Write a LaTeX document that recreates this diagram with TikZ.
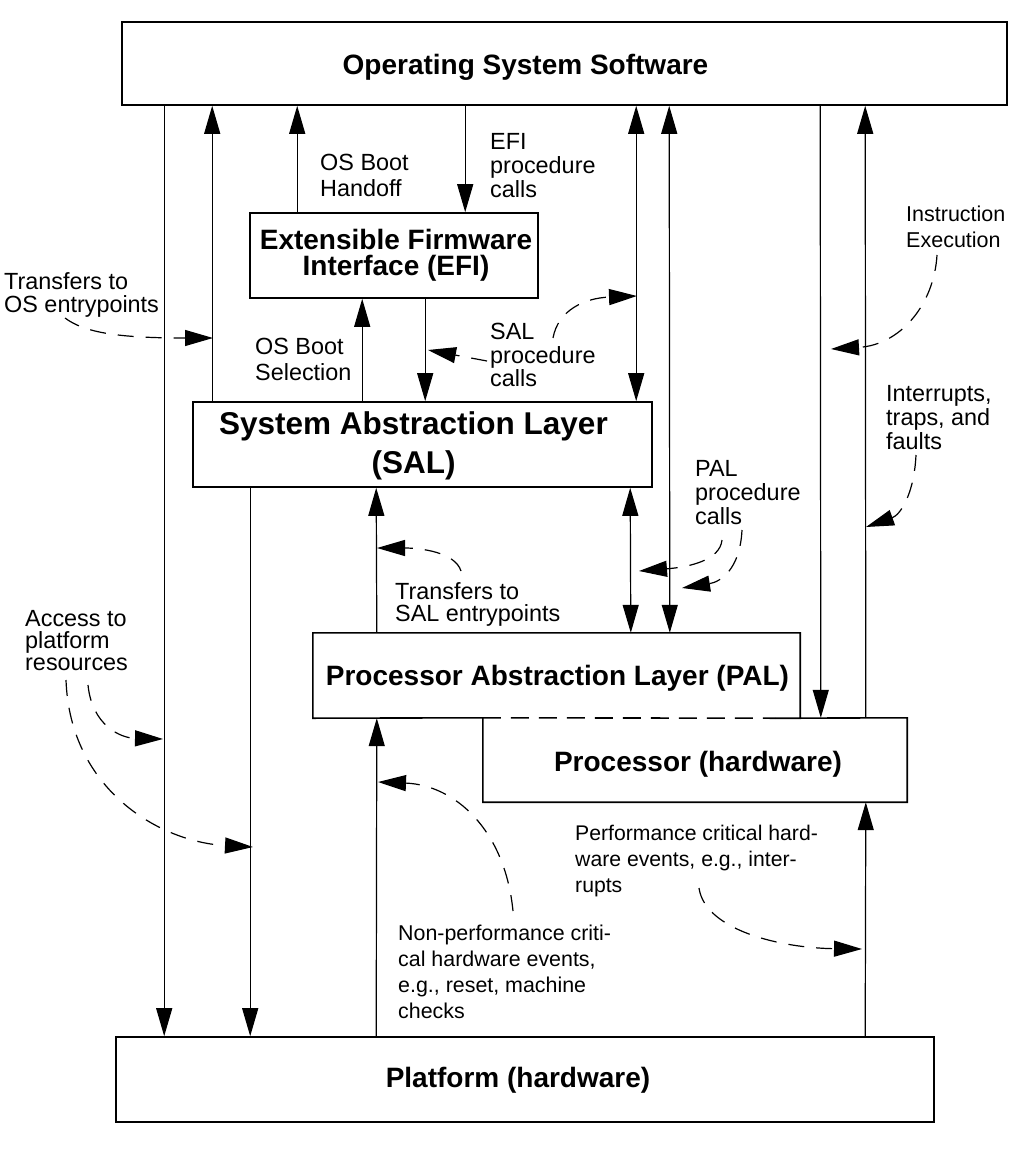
\documentclass[tikz,border=0pt]{standalone}
\usepackage{fontspec}
\setmainfont{Liberation Sans}
\usetikzlibrary{arrows.meta}

\begin{document}
\begin{tikzpicture}[x=1pt,y=-1pt,
    box/.style={draw, line width=1.6pt, inner sep=0pt},
    title/.style={font=\fontsize{28}{28}\selectfont\bfseries, align=center, inner sep=0pt},
    note/.style={align=left, anchor=north west, inner sep=0pt},
    conn/.style={line width=1.2pt, -{Triangle[length=28pt,width=16pt]}},
    both/.style={line width=1.2pt, {Triangle[length=28pt,width=16pt]}-{Triangle[length=28pt,width=16pt]}},
    hint/.style={line width=1.2pt, dash pattern=on 16pt off 12pt, -{Triangle[length=28pt,width=16pt]}}]
  \useasboundingbox (0,0) rectangle (1028,1158);

  % boxes
  \node[box, minimum width=885pt, minimum height=83pt] (os) at (564.5,63.5) {};
  \node[title] (ostitle) at ([xshift=-39pt,yshift=-4pt]os.center) {Operating System Software};
  \node[box, minimum width=288pt, minimum height=85pt] (efi) at (394,255.5) {};
  \node[title, font=\fontsize{28}{26.5}\selectfont\bfseries] (efititle) at ([xshift=2pt]efi.center) {Extensible Firmware\\Interface (EFI)};
  \node[box, minimum width=459pt, minimum height=85pt] (sal) at (422.5,444.5) {};
  \node[title, font=\fontsize{31.5}{39}\selectfont\bfseries] (saltitle) at ([xshift=-9pt,yshift=-1pt]sal.center) {System Abstraction Layer\\(SAL)};
  \node[minimum width=487pt, minimum height=85pt] (pal) at (556.5,675.5) {};
  \node[title] (paltitle) at ([xshift=1pt,yshift=-3pt]pal.center) {Processor Abstraction Layer (PAL)};
  \node[minimum width=424pt, minimum height=84pt] (proc) at (695,760) {};
  \node[title] (proctitle) at ([xshift=3pt,yshift=-4pt]proc.center) {Processor (hardware)};
  \node[box, minimum width=818pt, minimum height=85pt] (plat) at (525,1079.5) {};
  \node[title] (plattitle) at ([xshift=-7pt,yshift=-1pt]plat.center) {Platform (hardware)};
  \draw[line width=1.6pt] ([xshift=-25pt]pal.south east) -- (pal.south east) -- (pal.north east) -- (pal.north west)
    -- (pal.south west) -- (proc.north west) -- (proc.south west) -- (proc.south east) -- (proc.north east) -- cycle;
  \draw[line width=1.6pt, dash pattern=on 18pt off 10pt] (proc.north west) -- ([xshift=-25pt]pal.south east);

  % labels
  \node[note, font=\fontsize{23.4}{23}\selectfont] (ostrans) at (4,272) {Transfers to\\OS entrypoints};
  \node[note, font=\fontsize{23.4}{22}\selectfont] (access) at (25,610) {Access to\\platform\\resources};
  \node[note, font=\fontsize{21.5}{26}\selectfont] (instr) at (906,206) {Instruction\\Execution};
  \node[note, font=\fontsize{23.4}{24}\selectfont] (intr) at (886,385) {Interrupts,\\traps, and\\faults};
  \node[note, font=\fontsize{23.4}{24}\selectfont] (palcalls) at (695,460) {PAL\\procedure\\calls};
  \node[note, font=\fontsize{23.4}{23.5}\selectfont] (salcalls) at (490,323) {SAL\\procedure\\calls};
  \node[note, font=\fontsize{23.4}{24}\selectfont] (eficalls) at (490,133) {EFI\\procedure\\calls};
  \node[note, font=\fontsize{23.4}{26}\selectfont] (handoff) at (320,154) {OS Boot\\Handoff};
  \node[note, font=\fontsize{23.4}{26}\selectfont] (selection) at (255,338) {OS Boot\\Selection};
  \node[note, font=\fontsize{23.4}{22}\selectfont] (saltrans) at (395,582) {Transfers to\\SAL entrypoints};
  \node[note, font=\fontsize{21.2}{26}\selectfont] (perf) at (575,825) {Performance critical hard-\\ware events, e.g., inter-\\rupts};
  \node[note, font=\fontsize{21.4}{26}\selectfont] (nonperf) at (398,925) {Non-performance criti-\\cal hardware events,\\e.g., reset, machine\\checks};

  % solid connectors
  \draw[conn] ([xshift=43pt]os.south west) -- ([xshift=49pt]plat.north west);
  \draw[conn] ([xshift=20pt]sal.north west) -- ([xshift=91pt]os.south west);
  \draw[conn] ([xshift=48pt]efi.north west) -- ([xshift=176pt]os.south west);
  \draw[conn] ([xshift=344pt]os.south west) -- ([xshift=216pt]efi.north west);
  \draw[conn] ([xshift=170pt]sal.north west) -- ([xshift=113pt]efi.south west);
  \draw[conn] ([xshift=176pt]efi.south west) -- ([xshift=233pt]sal.north west);
  \draw[both] ([xshift=515pt]os.south west) -- ([xshift=444pt]sal.north west);
  \draw[both] ([xshift=548pt]os.south west) -- ([xshift=357pt]pal.north west);
  \draw[both] ([xshift=438pt]sal.south west) -- ([xshift=318pt]pal.north west);
  \draw[conn] ([xshift=699pt]os.south west) -- ([xshift=338pt]proc.north west);
  \draw[conn] ([xshift=383pt]proc.north west) -- ([xshift=744pt]os.south west);
  \draw[conn] ([xshift=58pt]sal.south west) -- ([xshift=135pt]plat.north west);
  \draw[conn] ([xshift=64pt]pal.north west) -- ([xshift=184pt]sal.south west);
  \draw[conn] ([xshift=261pt]plat.north west) -- ([xshift=64pt]pal.south west);
  \draw[conn] ([xshift=750pt]plat.north west) -- ([xshift=383pt]proc.south west);

  % dashed hints
  \coordinate (ostrans-a) at (65,318);   \coordinate (ostrans-b) at (213,338);
  \coordinate (salcalls-a) at (487,361); \coordinate (salcalls-b) at (428,350);
  \coordinate (salcalls-c) at (553,338); \coordinate (salcalls-d) at (637,296);
  \coordinate (instr-a) at (937,255);    \coordinate (instr-b) at (831,349);
  \coordinate (intr-a) at (916,455);     \coordinate (intr-b) at (866,527);
  \coordinate (palcalls-a) at (722,540); \coordinate (palcalls-b) at (639,571);
  \coordinate (palcalls-c) at (742,530); \coordinate (palcalls-d) at (682,588);
  \coordinate (saltrans-a) at (461,571); \coordinate (saltrans-b) at (377,548);
  \coordinate (access-a) at (88,685);    \coordinate (access-b) at (163,739);
  \coordinate (access-c) at (66,680);    \coordinate (access-d) at (253,847);
  \coordinate (nonperf-a) at (513,911);  \coordinate (nonperf-b) at (378,782);
  \coordinate (perf-a) at (699,888);     \coordinate (perf-b) at (862,949);

  \draw[hint] (ostrans-a) .. controls (85,333) and (120,338) .. (ostrans-b);
  \draw[hint] (salcalls-a) -- (salcalls-b);
  \draw[hint] (salcalls-c) .. controls (558,310) and (585,298) .. (salcalls-d);
  \draw[hint] (instr-a) .. controls (934,305) and (900,345) .. (instr-b);
  \draw[hint] (intr-a) .. controls (914,495) and (900,515) .. (intr-b);
  \draw[hint] (palcalls-a) .. controls (720,560) and (690,567) .. (palcalls-b);
  \draw[hint] (palcalls-c) .. controls (740,570) and (720,582) .. (palcalls-d);
  \draw[hint] (saltrans-a) .. controls (455,552) and (420,548) .. (saltrans-b);
  \draw[hint] (access-a) .. controls (92,725) and (120,738) .. (access-b);
  \draw[hint] (access-c) .. controls (70,790) and (160,842) .. (access-d);
  \draw[hint] (nonperf-a) .. controls (505,830) and (455,785) .. (nonperf-b);
  \draw[hint] (perf-a) .. controls (705,930) and (780,948) .. (perf-b);
\end{tikzpicture}
\end{document}
